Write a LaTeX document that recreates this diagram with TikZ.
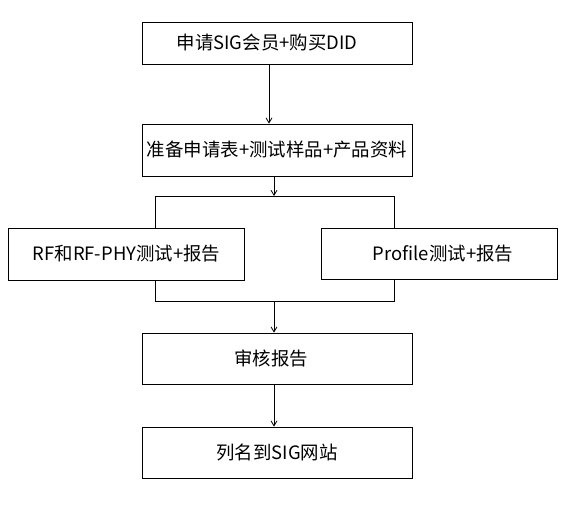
\documentclass[tikz,border=0pt]{standalone}
\usepackage{fontspec}
\newfontfamily\cjk{Noto Sans CJK SC}
\usetikzlibrary{arrows.meta,positioning}

\begin{document}
\begin{tikzpicture}[x=1bp,y=-1bp,->,>={Straight Barb[length=5bp,width=6bp]},line width=0.8bp,
                    box/.style={rectangle,draw,minimum width=270bp,minimum height=51bp,
                                inner sep=0pt,font=\cjk\fontsize{18.5}{22}\selectfont},
                    side box/.style={box,minimum width=236bp}]
  \useasboundingbox (0,0) rectangle (568,518);

  \node[box,minimum height=42bp] (apply) at (277,43) {申请SIG会员+购买DID\hspace*{20bp}};
  \node[box,minimum height=52bp] (prepare) at (277,150) {准备申请表+测试样品+产品资料};
  \node[side box,minimum height=52bp] (rf) at (126.5,254) {RF和RF-PHY测试+报告};
  \node[side box] (profile) at (439,253.5) {\hspace*{8bp}Profile测试+报告};
  \node[box] (review) at (277,358.5) {审核报告\hspace*{12bp}};
  \node[box] (list) at (277,452.5) {列名到SIG网站};

  % split and merge lines
  \coordinate (split) at (274,196);
  \coordinate (merge) at (274,301);
  \coordinate (rfx) at (155,0);
  \coordinate (profx) at (394,0);

  \draw ([xshift=-8bp]apply.south) -- ([xshift=-8bp]prepare.north);
  \draw (prepare.south -| split) -- (split);
  \draw[-] (rfx |- rf.north) -- (rfx |- split) -- (profx |- split) -- (profx |- profile.north);
  \draw[-] (rfx |- rf.south) -- (rfx |- merge) -- (profx |- merge) -- (profx |- profile.south);
  \draw (merge) -- (review.north -| merge);
  \draw (review.south -| merge) -- (list.north -| merge);
\end{tikzpicture}
\end{document}
